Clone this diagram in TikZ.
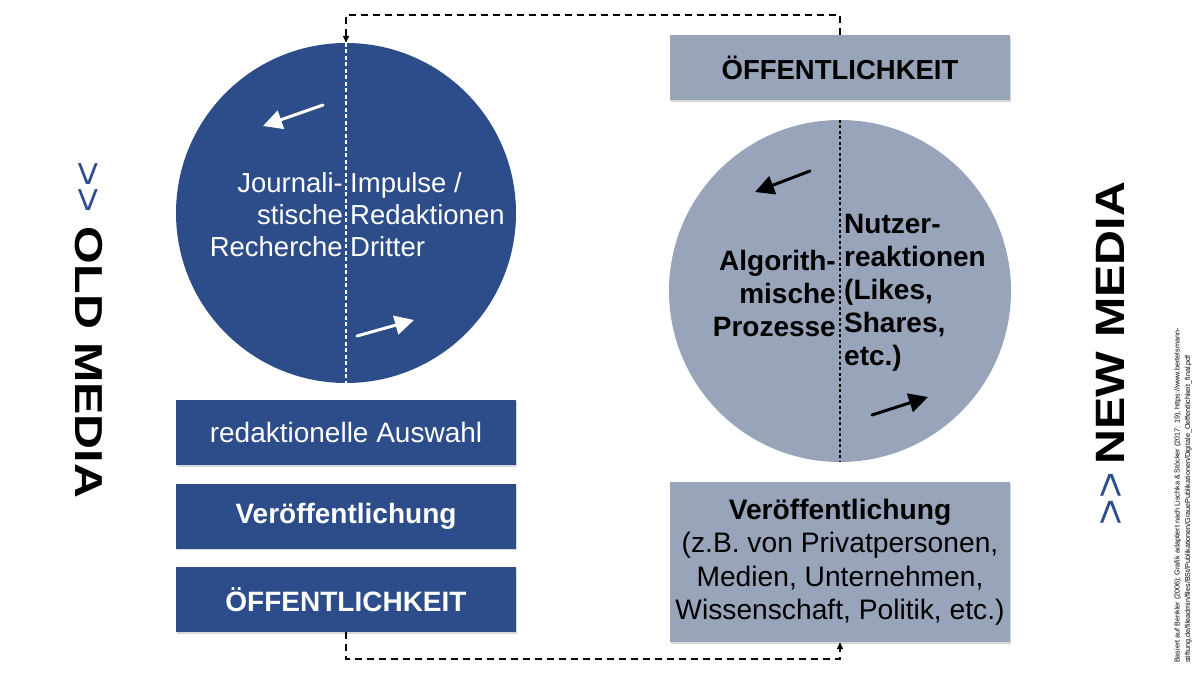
\documentclass[tikz,border=0pt]{standalone}
\usepackage{fontspec}
\setmainfont{Liberation Sans}
\usetikzlibrary{arrows.meta,shadows}
\definecolor{dblue}{RGB}{45,77,138}
\definecolor{gblue}{RGB}{152,164,186}
\begin{document}
\begin{tikzpicture}[x=1pt,y=-1pt,
  box/.style={minimum width=340pt, minimum height=65pt, inner sep=0pt, align=center,
    drop shadow={opacity=0.3,shadow xshift=1pt,shadow yshift=-1.5pt}},
  bigtxt/.style={font=\fontsize{28}{33}\selectfont},
  ctxt/.style={font=\fontsize{27.5}{32}\selectfont, inner sep=0pt},
  conn/.style={line width=1.5pt, dash pattern=on 7pt off 5pt, -{Triangle[length=7pt,width=6pt]}},
  sk/.style={line width=3pt, line cap=round, -{Triangle[length=19pt,width=19pt]}},
  vt/.style={font=\fontsize{39}{39}\selectfont\bfseries, inner sep=0pt}
]
\useasboundingbox (0,0) rectangle (1200,675);
\fill[white] (0,0) rectangle (1200,675);

% circles
\node[circle, fill=dblue, minimum size=340pt, inner sep=0pt] (lc) at (346,213) {};
\node[circle, fill=gblue, minimum size=342pt, inner sep=0pt] (rc) at (840,291) {};
\draw[white, line width=1.5pt, dash pattern=on 4pt off 2.5pt] (lc.north) -- (lc.south);
\draw[black, line width=1.5pt, dash pattern=on 3pt off 2.5pt] (rc.north) -- (rc.south);

% circle texts
\node[ctxt, text=white, anchor=east, align=right] (lt1) at (343,215) {Journali-\\stische\\Recherche};
\node[ctxt, text=white, anchor=west, align=left] (lt2) at (350,215) {Impulse /\\Redaktionen\\Dritter};
\node[ctxt, font=\fontsize{28}{33}\selectfont\bfseries, anchor=east, align=right] (rt1) at (836,293) {Algorith-\\mische\\Prozesse};
\node[ctxt, font=\fontsize{28}{33}\selectfont\bfseries, anchor=west, align=left] (rt2) at (844,293) {Nutzer-\\reaktionen\\(Likes,\\Shares,\\etc.)};

% sketch arrows
\coordinate (a1t) at (323,105); \coordinate (a1h) at (263,126);
\coordinate (a2t) at (357,336); \coordinate (a2h) at (414,320);
\coordinate (a3t) at (810,171); \coordinate (a3h) at (755,192);
\coordinate (a4t) at (872,415); \coordinate (a4h) at (928,397);
\draw[sk, white] (a1t) -- (a1h);
\draw[sk, white] (a2t) -- (a2h);
\draw[sk, black] (a3t) -- (a3h);
\draw[sk, black] (a4t) -- (a4h);

% left boxes
\node[box, fill=dblue, text=white, bigtxt] (b1) at (346,432.5) {redaktionelle Auswahl};
\node[box, fill=dblue, text=white, font=\fontsize{28}{33}\selectfont\bfseries] (b2) at (346,516) {Veröffentlichung};
\node[box, fill=dblue, text=white, font=\fontsize{28}{33}\selectfont\bfseries] (b3) at (346,599.5) {ÖFFENTLICHKEIT};

% right boxes
\node[box, fill=gblue, font=\fontsize{27.5}{32}\selectfont\bfseries] (rtop) at (840,67.5) {ÖFFENTLICHKEIT};
\node[box, fill=gblue, minimum height=160pt, font=\fontsize{28.2}{33.5}\selectfont] (rbot) at (840,562) {\textbf{Veröffentlichung}\\(z.B. von Privatpersonen,\\Medien, Unternehmen,\\Wissenschaft, Politik, etc.)};

% dashed connectors
\draw[conn] (rtop.north) -- ++(0,-20) -| (lc.north);
\draw[conn] (b3.south) -- ++(0,27) -| (rbot.south);

% vertical labels
\node[vt, rotate=-90] (old) at (89,330) {\textcolor{dblue}{\mdseries\scalebox{1.1}[1]{>\hspace{1pt}>}}\hspace{14pt}\scalebox{1.24}[1]{OLD MEDIA}};
\node[vt, rotate=90, font=\fontsize{41}{41}\selectfont\bfseries] (new) at (1110,354) {\textcolor{dblue}{\mdseries\scalebox{1.1}[1]{>\hspace{1pt}>}}\hspace{8pt}\scalebox{1.18}[1]{NEW MEDIA}};

% source
\node[rotate=90, anchor=west, align=left, inner sep=0pt, font=\fontsize{7.2}{10.5}\selectfont] (src) at (1183,663)
 {Basiert auf Benkler (2006); Grafik adaptiert nach Lischka \& Stöcker (2017: 19), https://www.bertelsmann-\\stiftung.de/fileadmin/files/BSt/Publikationen/GrauePublikationen/Digitale\_Oeffentlichkeit\_final.pdf};
\end{tikzpicture}
\end{document}
